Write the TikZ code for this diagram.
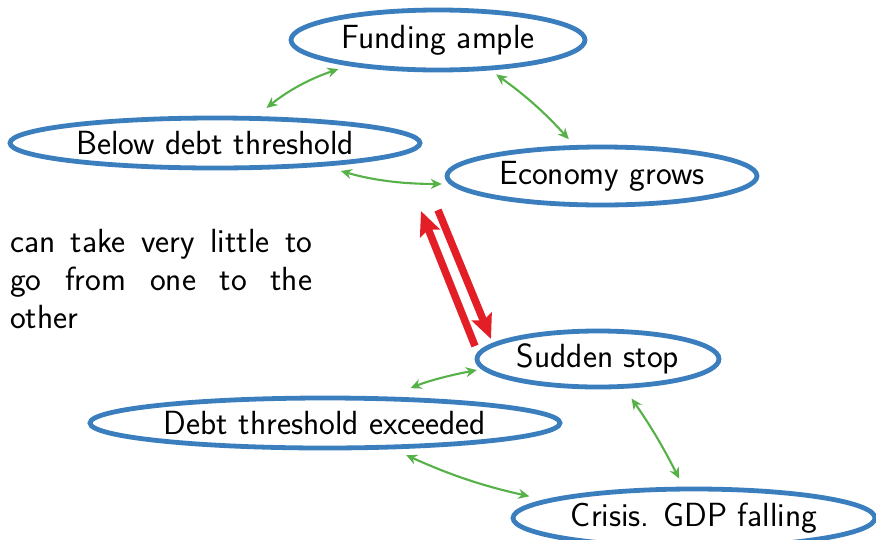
\documentclass[tikz,border=0pt]{standalone}
\usetikzlibrary{arrows.meta,shapes.geometric}
\definecolor{ellblue}{RGB}{58,126,190}
\definecolor{arrgreen}{RGB}{86,178,72}
\definecolor{arrred}{RGB}{228,30,38}
\begin{document}
\begin{tikzpicture}[x=1pt,y=-1pt,
  state/.style={ellipse,draw=ellblue,line width=4.8pt,inner sep=0pt,
    font=\sffamily\fontsize{33.5}{38}\selectfont},
  link/.style={arrgreen,line width=2.1pt,{Stealth[length=11pt,width=10pt]}-{Stealth[length=11pt,width=10pt]}},
  redarr/.style={arrred,line width=7.5pt,-{Stealth[length=24pt,width=21pt,inset=4pt]}}]
\useasboundingbox (0,0) rectangle (876,539);
\node[state,minimum width=294pt,minimum height=60pt] (fund) at (438,40) {Funding ample};
\node[state,minimum width=410pt,minimum height=50pt] (below) at (215,143) {Below debt threshold};
\node[state,minimum width=310pt,minimum height=58pt] (econ) at (602,176) {Economy grows};
\node[state,minimum width=242pt,minimum height=56pt] (sudden) at (598,359) {Sudden stop};
\node[state,minimum width=470pt,minimum height=50pt] (debt) at (325,423) {Debt threshold exceeded};
\node[state,minimum width=362pt,minimum height=58pt] (crisis) at (694,518) {Crisis. GDP falling};

\node[anchor=base west,inner sep=0pt,text width=302pt,align=justify,
  font=\sffamily\fontsize{33.5}{38}\selectfont] (note) at (10,252)
  {can take very little to go from one to the other};

\draw[link,shorten <=13pt,shorten >=10pt] (below.33) to[bend left=10] (fund.196);
\draw[link,shorten <=7pt,shorten >=8pt] (fund.-30) to[bend left=6] (econ.132);
\draw[link,shorten <=17pt,shorten >=8pt] (below.-12) to[bend right=8] (econ.183);
\draw[link,shorten <=5pt,shorten >=22pt] (sudden.185) to[bend right=6] (debt.22);
\draw[link,shorten <=12pt,shorten >=9pt] (sudden.-48) to[bend left=4] (crisis.109);
\draw[link,shorten <=14pt,shorten >=16pt] (debt.-21) to[bend right=6] (crisis.173);

\coordinate (rA1) at (475,346);
\coordinate (rA2) at (421,211);
\coordinate (rB1) at (438,210);
\coordinate (rB2) at (491,339);
\draw[redarr] (rA1) -- (rA2);
\draw[redarr] (rB1) -- (rB2);
\end{tikzpicture}
\end{document}
